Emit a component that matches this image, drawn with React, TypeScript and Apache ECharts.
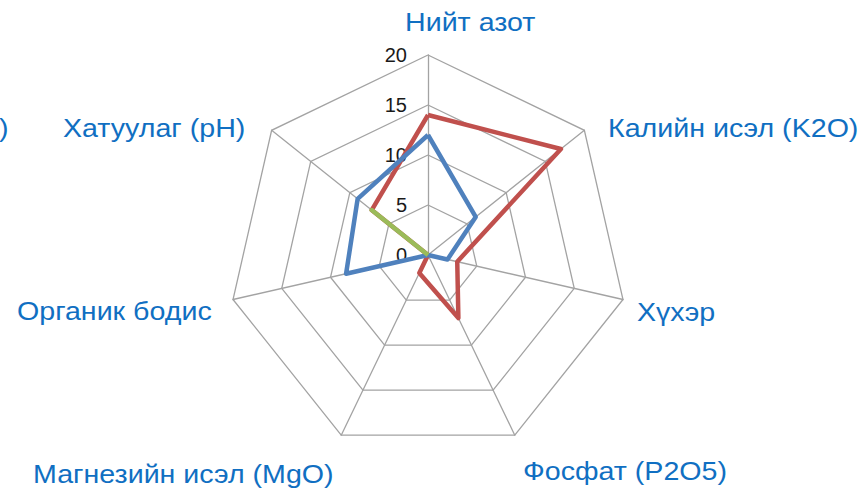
import React, { useEffect, useRef } from "react";
import * as echarts from "echarts";

// Listed clockwise from the top, as in the picture
const indicators = [
  "Нийт азот",
  "Калийн исэл (K2O)",
  "Хүхэр",
  "Фосфат (P2O5)",
  "Магнезийн исэл (MgO)",
  "Органик бодис",
  "Хатуулаг (pH)",
];
const redValues = [14, 17, 3, 7, 2, 0, 7.2];
const blueValues = [12, 6.1, 2, 0, 0, 8.4, 9];
const greenValues = [0, 0, 0, 0, 0, 0, 7.2];
const tickMax = 20;
const tickStep = 5;

const labelPos: [number, number][] = [
  [405, 22],
  [608, 128],
  [637, 312],
  [523, 471],
  [33, 474],
  [17, 311],
  [63, 128],
];

// ECharts radar runs counter-clockwise: keep first, reverse the rest
const ccw = <T,>(arr: T[]): T[] => [arr[0], ...arr.slice(1).reverse()];

export default function App() {
  const ref = useRef<HTMLDivElement>(null);
  useEffect(() => {
    document.body.style.margin = "0";
    const chart = echarts.init(ref.current!, null, { renderer: "svg" });
    const center = [428, 255];
    const radius = 200;
    const blue = "#106fc2";
    const font = "26px 'Liberation Sans', Arial, sans-serif";
    chart.setOption({
      animation: false,
      backgroundColor: "#ffffff",
      radar: {
        center,
        radius,
        startAngle: 90,
        shape: "polygon",
        splitNumber: 4,
        indicator: ccw(indicators).map((n) => ({ name: n, min: 0, max: tickMax })),
        axisName: { show: false },
        axisLine: { lineStyle: { color: "#a3a3a3", width: 1.3 } },
        splitLine: { lineStyle: { color: "#a3a3a3", width: 1.3 } },
        splitArea: { show: false },
      },
      polar: { center, radius },
      angleAxis: { show: false, startAngle: 90, min: 0, max: 360 },
      radiusAxis: {
        min: 0,
        max: tickMax,
        interval: tickStep,
        axisLine: { show: false },
        axisTick: { show: false },
        splitLine: { show: false },
        axisLabel: {
          show: true,
          fontSize: 20,
          color: "#1a1a1a",
          fontFamily: "Liberation Sans, Arial, sans-serif",
          margin: 21,
        },
      },
      graphic: [
        ...indicators.map((n, i) => ({
          type: "text",
          x: labelPos[i][0],
          y: labelPos[i][1],
          scaleX: 1.1,
          style: {
            text: n,
            fill: blue,
            font,
            textAlign: "left",
            textVerticalAlign: "middle",
          },
        })),
        {
          type: "text",
          x: -1,
          y: 128,
          scaleX: 1.1,
          style: {
            text: ")",
            fill: blue,
            font,
            textAlign: "left",
            textVerticalAlign: "middle",
          },
        },
      ],
      series: [
        {
          type: "radar",
          symbol: "none",
          data: [
            { value: ccw(redValues), lineStyle: { color: "#c0504d", width: 4.5 } },
            { value: ccw(blueValues), lineStyle: { color: "#4f81bd", width: 4.5 } },
            { value: ccw(greenValues), lineStyle: { color: "#9bbb59", width: 4.5 } },
          ],
        },
      ],
    });
    return () => chart.dispose();
  }, []);
  return <div ref={ref} style={{ width: 866, height: 493 }} />;
}
